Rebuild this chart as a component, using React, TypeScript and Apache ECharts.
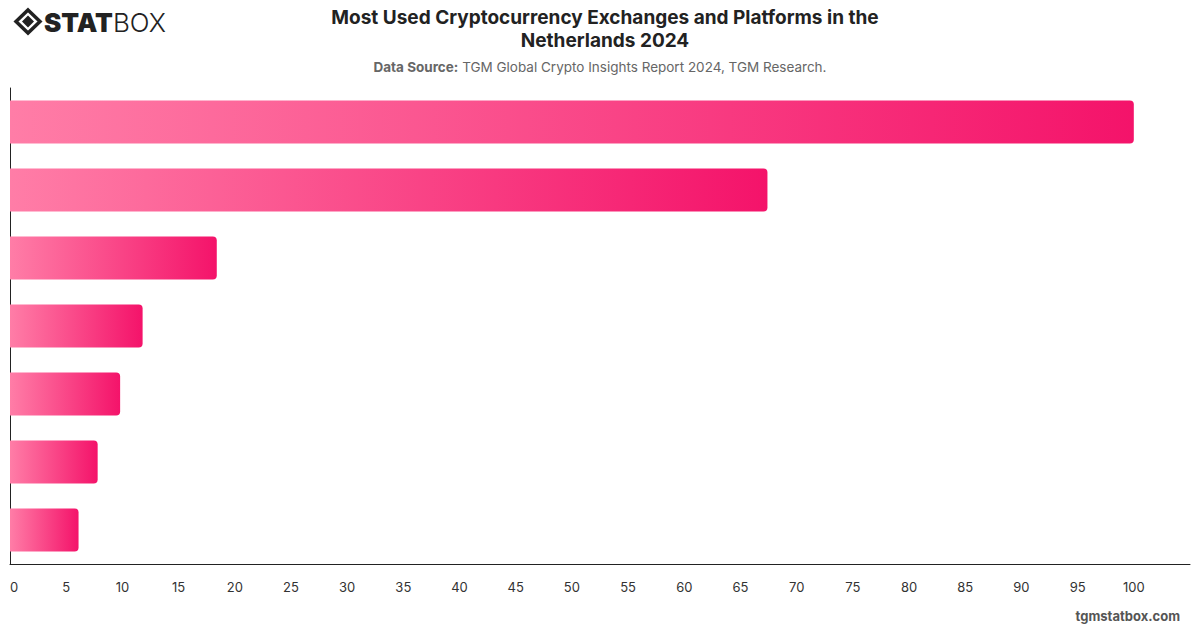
import React, { useEffect, useRef } from "react";
import * as echarts from "echarts";

const categories = ["Exchange 1", "Exchange 2", "Exchange 3", "Exchange 4", "Exchange 5", "Exchange 6", "Exchange 7"];
const values = [100, 67.4, 18.4, 11.8, 9.8, 7.8, 6.1];
const titleText = "Most Used Cryptocurrency Exchanges and Platforms in the\nNetherlands 2024";
const sourceLabel = "Data Source:";
const sourceText = " TGM Global Crypto Insights Report 2024, TGM Research.";

export default function App() {
  const ref = useRef<HTMLDivElement>(null);
  useEffect(() => {
    document.body.style.margin = "0";
    const chart = echarts.init(ref.current!, null, { renderer: "svg" });
    chart.setOption({
      animation: false,
      backgroundColor: "#ffffff",
      textStyle: { fontFamily: "Inter, 'Noto Sans', sans-serif" },
      title: {
        text: titleText,
        left: 600,
        textAlign: "center",
        top: 1,
        textStyle: { fontSize: 19, fontWeight: "bold", color: "#222222", lineHeight: 23, fontFamily: "Inter" },
      },
      graphic: [
        {
          type: "text",
          x: 600,
          y: 67,
          style: {
            text: "{b|" + sourceLabel + "}{n|" + sourceText + "}",
            textAlign: "center",
            textVerticalAlign: "middle",
            rich: {
              b: { fontSize: 13.5, fontWeight: "bold", fill: "#666666", fontFamily: "Inter" },
              n: { fontSize: 13.5, fill: "#666666", fontFamily: "Inter" },
            },
          },
        },
        {
          type: "group",
          x: 16,
          y: 10,
          children: [
            { type: "polygon", shape: { points: [[12, 0], [24, 11.5], [12, 23], [0, 11.5]] }, style: { fill: "none", stroke: "#222", lineWidth: 3.5 } },
            { type: "polygon", shape: { points: [[12, 5.5], [18, 11.5], [12, 17.5], [6, 11.5]] }, style: { fill: "#222" } },
          ],
        },
        {
          type: "text",
          x: 44,
          y: 22,
          style: {
            text: "{s|STAT}{b|BOX}",
            textVerticalAlign: "middle",
            rich: {
              s: { fontSize: 26, fontWeight: 900, fill: "#222", fontFamily: "Inter" },
              b: { fontSize: 26, fontWeight: 300, fill: "#222", fontFamily: "Inter" },
            },
          },
        },
        {
          type: "text",
          right: 20,
          y: 609,
          style: { text: "tgmstatbox.com", fontSize: 13, fontWeight: "bold", fill: "#555555", fontFamily: "Inter" },
        },
      ],
      grid: { left: 10, right: 10, top: 88, bottom: 64, containLabel: false },
      xAxis: {
        type: "value",
        min: 0,
        max: 105,
        interval: 5,
        splitLine: { show: false },
        axisLine: { show: true, lineStyle: { color: "#222", width: 1 } },
        axisTick: { show: false },
        axisLabel: {
          showMaxLabel: false,
          alignMinLabel: "left",
          margin: 16,
          fontSize: 13,
          color: "#333",
          fontFamily: "Inter",
          formatter: (v: number) => (v > 100 ? "" : String(v)),
        },
      },
      yAxis: {
        type: "category",
        data: categories,
        inverse: true,
        axisLine: { show: true, lineStyle: { color: "#222", width: 1 } },
        axisTick: { show: false },
        axisLabel: { show: false },
      },
      series: [
        {
          type: "bar",
          data: values,
          barWidth: "63%",
          itemStyle: {
            borderRadius: [0, 4, 4, 0],
            color: new echarts.graphic.LinearGradient(0, 0, 1, 0, [
              { offset: 0, color: "#FF7DA7" },
              { offset: 1, color: "#F4136A" },
            ]),
          },
        },
      ],
    });
    return () => chart.dispose();
  }, []);
  return <div ref={ref} style={{ width: 1200, height: 628, position: "fixed", left: 0, top: 0 }} />;
}
